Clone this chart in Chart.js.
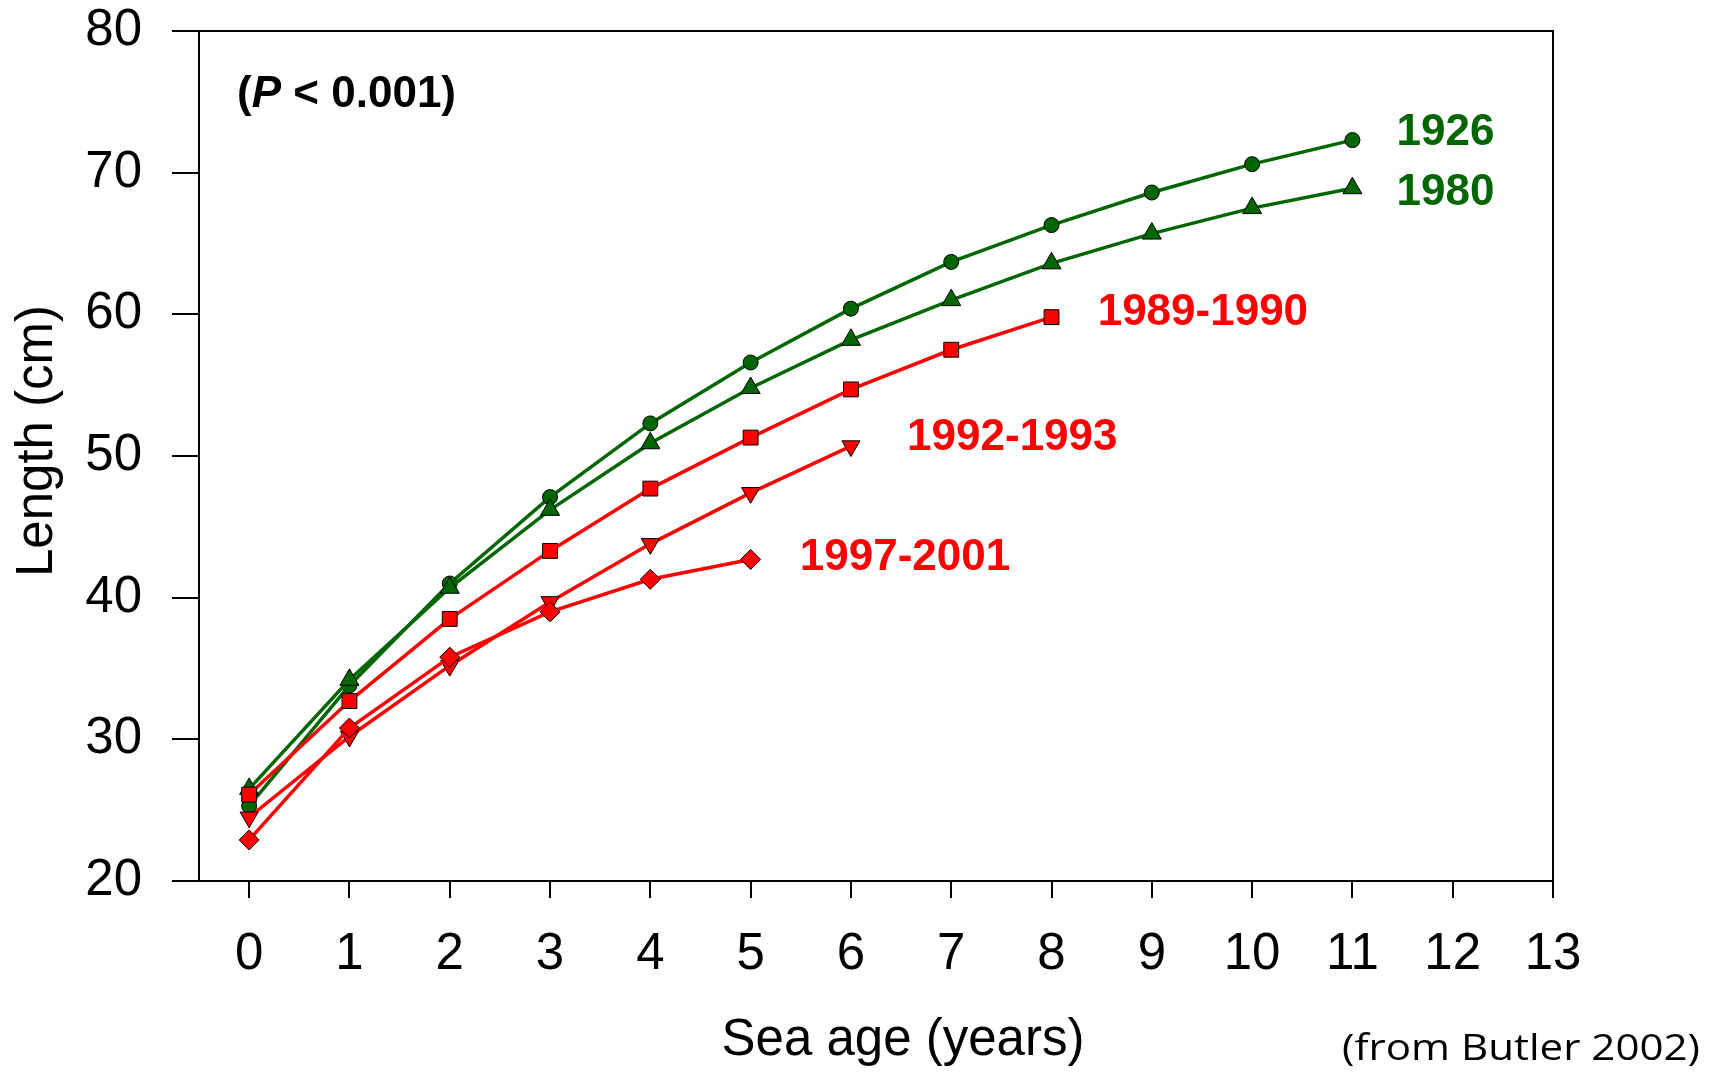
<!DOCTYPE html>
<html>
<head>
<meta charset="utf-8">
<script src="https://cdn.jsdelivr.net/npm/chart.js@4"></script>
<style>
  html, body { margin: 0; padding: 0; background: #ffffff; }
  #wrap { width: 1713px; height: 1072px; }
</style>
</head>
<body>
<div id="wrap"><canvas id="c" width="1713" height="1072"></canvas></div>
<script>
// ---------------- DATA ----------------
const seaAge = [0, 1, 2, 3, 4, 5, 6, 7, 8, 9, 10, 11];
const xTickValues = [0, 1, 2, 3, 4, 5, 6, 7, 8, 9, 10, 11, 12, 13];
const yTickValues = [20, 30, 40, 50, 60, 70, 80];
const seriesNames = ['1926', '1980', '1989-1990', '1992-1993', '1997-2001'];
const len1926 = [25.3, 33.8, 41.0, 47.1, 52.3, 56.6, 60.4, 63.7, 66.3, 68.6, 70.6, 72.3];
const len1980 = [26.5, 34.2, 40.7, 46.2, 50.9, 54.8, 58.2, 61.0, 63.6, 65.7, 67.5, 68.9];
const len1989 = [26.1, 32.7, 38.5, 43.3, 47.7, 51.3, 54.7, 57.5, 59.8];
const len1992 = [24.5, 30.2, 35.2, 39.7, 43.8, 47.4, 50.7];
const len1997 = [22.9, 30.8, 35.8, 39.0, 41.3, 42.7];
const pValueText = ['(', 'P', ' < 0.001)'];
const sourceText = '(from Butler 2002)';
const xTitle = 'Sea age (years)';
const yTitle = 'Length (cm)';

// ---------------- STYLE ----------------
const GREEN = '#006600';
const RED = '#ff0000';
const FONT = '"Liberation Sans", Arial, Helvetica, sans-serif';

const seriesValues = [len1926, len1980, len1989, len1992, len1997];
const seriesStyle = [
  { color: GREEN, pointStyle: 'circle',   radius: 7.5, rotation: 0,   order: 5 },
  { color: GREEN, pointStyle: 'triangle', radius: 11,  rotation: 0,   order: 4 },
  { color: RED,   pointStyle: 'rect',     radius: 10.5,rotation: 0,   order: 3 },
  { color: RED,   pointStyle: 'triangle', radius: 10.5,rotation: 180, order: 2 },
  { color: RED,   pointStyle: 'rectRot',  radius: 10,  rotation: 0,   order: 1 }
];
// label anchor (data coords, alphabetic baseline)
const labelAnchor = [
  { x: 11.44, y: 71.95 },
  { x: 11.44, y: 67.72 },
  { x: 8.46,  y: 59.25 },
  { x: 6.56,  y: 50.42 },
  { x: 5.49,  y: 41.95 }
];

const datasets = seriesValues.map((vals, i) => {
  const s = seriesStyle[i];
  return {
    label: seriesNames[i],
    data: vals.map((v, j) => ({ x: seaAge[j], y: v })),
    borderColor: s.color,
    backgroundColor: s.color,
    borderWidth: 3.5,
    tension: 0,
    fill: false,
    pointStyle: s.pointStyle,
    pointRadius: s.radius,
    pointRotation: s.rotation,
    pointBackgroundColor: s.color,
    pointBorderColor: '#000000',
    pointBorderWidth: 1,
    order: s.order,
    clip: false
  };
});

const annotPlugin = {
  id: 'annot',
  afterDraw(chart) {
    const { ctx, chartArea: a, scales } = chart;
    const xs = scales.x, ys = scales.y;
    ctx.save();
    // frame: top and right borders
    ctx.strokeStyle = '#000000';
    ctx.lineWidth = 2;
    ctx.beginPath();
    ctx.moveTo(a.left, a.top);
    ctx.lineTo(a.right, a.top);
    ctx.lineTo(a.right, a.bottom);
    ctx.stroke();

    // series labels
    ctx.textBaseline = 'alphabetic';
    ctx.textAlign = 'left';
    ctx.font = 'bold 44px ' + FONT;
    seriesNames.forEach((name, i) => {
      ctx.fillStyle = seriesStyle[i].color;
      ctx.fillText(name, xs.getPixelForValue(labelAnchor[i].x), ys.getPixelForValue(labelAnchor[i].y));
    });

    // (P < 0.001)
    let px = xs.getPixelForValue(-0.12);
    const py = ys.getPixelForValue(74.64);
    ctx.fillStyle = '#000000';
    pValueText.forEach((seg, k) => {
      ctx.font = (k === 1 ? 'italic bold 44px ' : 'bold 44px ') + FONT;
      ctx.fillText(seg, px, py);
      px += ctx.measureText(seg).width;
    });

    // x axis title
    ctx.font = '51px ' + FONT;
    ctx.textAlign = 'center';
    ctx.textBaseline = 'middle';
    ctx.fillText(xTitle, 903, 1041);

    // y axis title
    ctx.save();
    ctx.translate(38, 441);
    ctx.rotate(-Math.PI / 2);
    ctx.fillText(yTitle, 0, 0);
    ctx.restore();

    // source note
    ctx.textAlign = 'left';
    ctx.textBaseline = 'alphabetic';
    ctx.font = '36px "Open Sans", "Noto Sans", sans-serif';
    const w = ctx.measureText(sourceText).width;
    const target = 358;
    ctx.translate(1700 - target, 1060);
    ctx.scale(target / w, 1);
    ctx.fillText(sourceText, 0, 0);
    ctx.restore();
  }
};

new Chart(document.getElementById('c'), {
  type: 'line',
  data: { datasets },
  options: {
    responsive: false,
    animation: false,
    devicePixelRatio: 1,
    layout: { padding: { left: 0, top: 31, right: 160, bottom: 0 } },
    plugins: { legend: { display: false }, tooltip: { enabled: false } },
    scales: {
      x: {
        type: 'linear',
        min: -0.5,
        max: 13,
        afterBuildTicks: s => { s.ticks = xTickValues.map(v => ({ value: v })); },
        afterFit: s => { s.height = 191; s.paddingLeft = 0; s.paddingRight = 0; },
        ticks: { font: { family: FONT, size: 51 }, color: '#000000', padding: 26, maxRotation: 0, autoSkip: false },
        grid: { drawOnChartArea: false, drawTicks: true, tickLength: 17, color: '#000000', lineWidth: 2 },
        border: { display: true, color: '#000000', width: 2 },
        title: { display: false }
      },
      y: {
        type: 'linear',
        min: 20,
        max: 80,
        afterBuildTicks: s => { s.ticks = yTickValues.map(v => ({ value: v })); },
        afterFit: s => { s.width = 199; s.paddingTop = 0; s.paddingBottom = 0; },
        ticks: { font: { family: FONT, size: 51 }, color: '#000000', padding: 30 },
        grid: { drawOnChartArea: false, drawTicks: true, tickLength: 27, color: '#000000', lineWidth: 2 },
        border: { display: true, color: '#000000', width: 2 },
        title: { display: false }
      }
    }
  },
  plugins: [annotPlugin]
});
</script>
</body>
</html>
